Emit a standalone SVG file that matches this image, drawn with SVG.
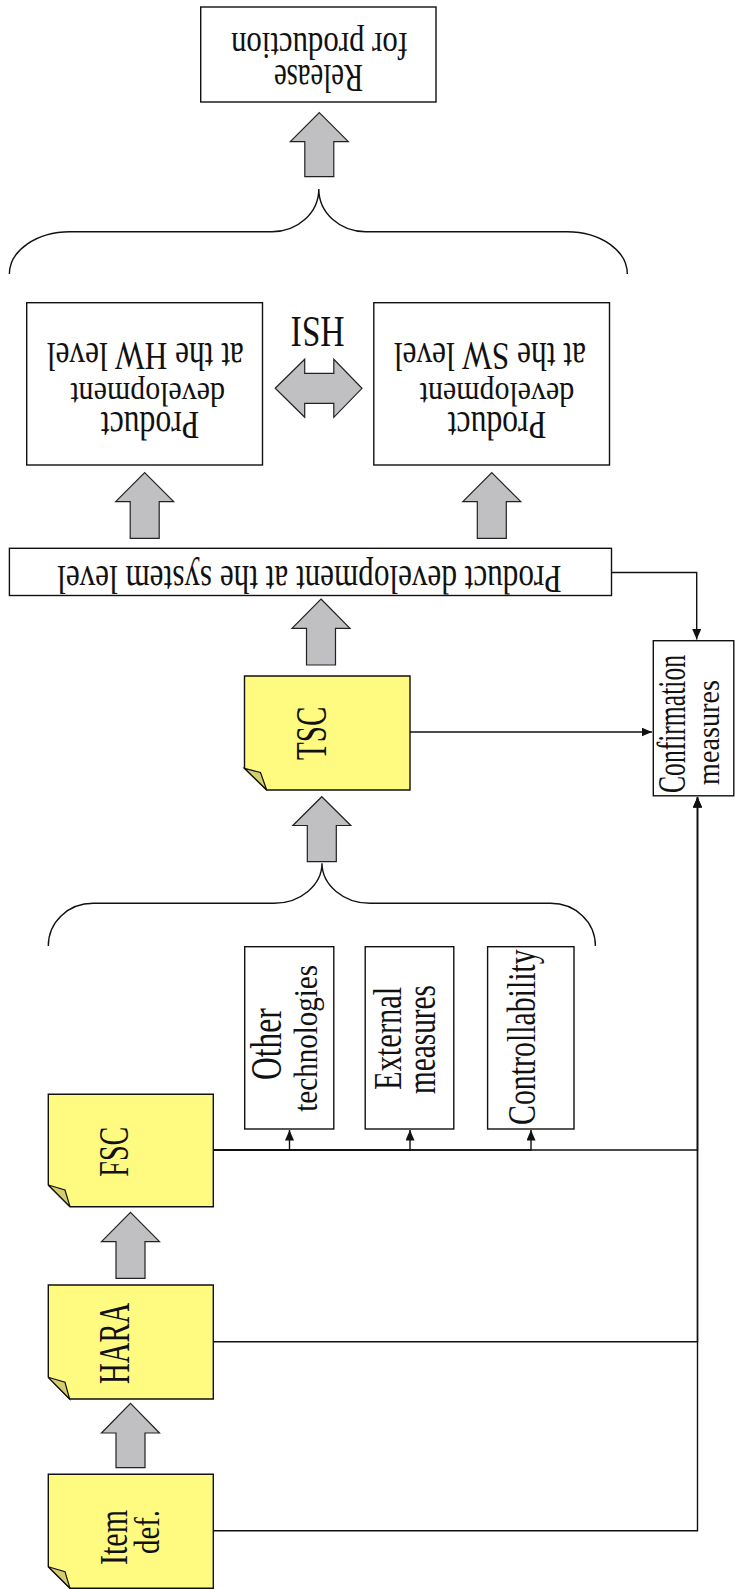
<svg xmlns="http://www.w3.org/2000/svg" width="735" height="1590" viewBox="0 0 735 1590">
<defs>
<style>
.box{fill:#fff;stroke:#111;stroke-width:1.4}
.note{fill:#fffb80;stroke:#111;stroke-width:1.4;stroke-linejoin:miter}
.fold{fill:#d4cd70;stroke:#111;stroke-width:1.2;stroke-linejoin:miter}
.blk{fill:#c0c0c2;stroke:#222;stroke-width:1.2;stroke-linejoin:miter}
.brace{fill:none;stroke:#111;stroke-width:1.4}
.con{fill:none;stroke:#111;stroke-width:1.4}
.t{font-family:"Liberation Serif","DejaVu Serif",serif;fill:#111}
</style>
<marker id="ah" markerUnits="userSpaceOnUse" markerWidth="11" markerHeight="9" refX="10.5" refY="4.5" orient="auto">
<path d="M0,0 L10.5,4.5 L0,9 z" fill="#111"/>
</marker>
</defs>
<rect width="735" height="1590" fill="#fff"/>

<g id="connectors">
<path class="con" d="M611.5,572.5 H696.7 V639.5" marker-end="url(#ah)"/>
<path class="con" d="M410,732 H652" marker-end="url(#ah)"/>
<path class="con" d="M213.3,1530.7 H697.5 V797" marker-end="url(#ah)"/>
<path class="con" d="M213.3,1341.7 H697.5 V797" marker-end="url(#ah)"/>
<path class="con" d="M213.3,1150 H697.5 V797" marker-end="url(#ah)"/>
<path class="con" d="M213.3,1150 H289.5 V1130" marker-end="url(#ah)"/>
<path class="con" d="M213.3,1150 H410 V1130" marker-end="url(#ah)"/>
<path class="con" d="M213.3,1150 H531 V1130" marker-end="url(#ah)"/>
<path id="brace-top" class="brace" d="M9.4,274 C9.4,250.6 36.5,231.7 70,231.7 L272,231.7 C297.8,231.7 318.8,212.8 318.8,189 C318.8,212.8 339.8,231.7 365.6,231.7 L567,231.7 C600.5,231.7 627.3,250.6 627.3,274"/>
<path id="brace-mid" class="brace" d="M48.3,946 C48.3,922 68,903.3 93.3,903.3 L274,903.3 C300.4,903.3 322,885 322,863.3 C322,885 343.6,903.3 370,903.3 L550.4,903.3 C575.7,903.3 595.4,922 595.4,946"/>
<polygon id="arr-release" class="blk" points="319.3,112.7 348.3,141.7 333.8,141.7 333.8,176.7 304.8,176.7 304.8,141.7 290.3,141.7"/>
<polygon id="arr-hw" class="blk" points="144.7,472.7 173.7,501.7 159.2,501.7 159.2,538.3 130.2,538.3 130.2,501.7 115.7,501.7"/>
<polygon id="arr-sw" class="blk" points="491.8,472.7 520.8,501.7 506.3,501.7 506.3,538.3 477.3,538.3 477.3,501.7 462.8,501.7"/>
<polygon id="arr-sys" class="blk" points="321,599 350,628.3 335.5,628.3 335.5,665 306.5,665 306.5,628.3 292,628.3"/>
<polygon id="arr-tsc" class="blk" points="321.8,796.7 350.8,825.5 336.3,825.5 336.3,861.7 307.3,861.7 307.3,825.5 292.8,825.5"/>
<polygon id="arr-fsc" class="blk" points="130.5,1212.3 159.5,1241.7 145,1241.7 145,1278.3 116,1278.3 116,1241.7 101.5,1241.7"/>
<polygon id="arr-hara" class="blk" points="130.5,1403.3 159.5,1433 145,1433 145,1467.7 116,1467.7 116,1433 101.5,1433"/>
<polygon id="arr-ish" class="blk" points="275.2,388.3 304.7,359.3 304.7,373.3 333.8,373.3 333.8,359.3 362,388.3 333.8,417.3 333.8,403.3 304.7,403.3 304.7,417.3"/>
</g>

<g id="release">
<rect class="box" x="200.7" y="7" width="235.3" height="95"/>
<text class="t" font-size="40" transform="translate(363,65) rotate(180)" textLength="89" lengthAdjust="spacingAndGlyphs">Release</text>
<text class="t" font-size="37" transform="translate(408,33) rotate(180)" textLength="177" lengthAdjust="spacingAndGlyphs">for production</text>
</g>

<g id="hw">
<rect class="box" x="26.7" y="302.7" width="235.8" height="162.3"/>
<text class="t" font-size="40" transform="translate(243.8,343.3) rotate(180)" textLength="197" lengthAdjust="spacingAndGlyphs">at the HW level</text>
<text class="t" font-size="34" transform="translate(225,382.5) rotate(180)" textLength="154.7" lengthAdjust="spacingAndGlyphs">development</text>
<text class="t" font-size="39" transform="translate(199.3,411.7) rotate(180)" textLength="98.5" lengthAdjust="spacingAndGlyphs">Product</text>
</g>

<g id="sw">
<rect class="box" x="373.8" y="302.7" width="235.7" height="162.3"/>
<text class="t" font-size="40" transform="translate(586,343.3) rotate(180)" textLength="192.2" lengthAdjust="spacingAndGlyphs">at the SW level</text>
<text class="t" font-size="34" transform="translate(574.3,382.5) rotate(180)" textLength="154.7" lengthAdjust="spacingAndGlyphs">development</text>
<text class="t" font-size="39" transform="translate(546.2,411.7) rotate(180)" textLength="98.5" lengthAdjust="spacingAndGlyphs">Product</text>
</g>

<g id="hsi">
<text class="t" font-size="45" transform="translate(344.6,316.7) rotate(180)" textLength="54" lengthAdjust="spacingAndGlyphs">HSI</text>
</g>

<g id="system">
<rect class="box" x="9.4" y="548.3" width="602.1" height="47.2"/>
<text class="t" font-size="40" transform="translate(561.6,565.5) rotate(180)" textLength="504.4" lengthAdjust="spacingAndGlyphs">Product development at the system level</text>
</g>

<g id="confirmation">
<rect class="box" x="653.3" y="640.7" width="80.5" height="155.1"/>
<text class="t" font-size="39" transform="translate(685,793) rotate(-90)" textLength="138" lengthAdjust="spacingAndGlyphs">Confirmation</text>
<text class="t" font-size="31" transform="translate(719.3,785) rotate(-90)" textLength="105" lengthAdjust="spacingAndGlyphs">measures</text>
</g>

<g id="tsc">
<polygon class="note" points="244.5,676 410,676 410,790 266.7,790 244.5,768.3"/>
<polygon class="fold" points="244.5,768.3 260.5,772.5 266.7,790"/>
<text class="t" font-size="44" transform="translate(325.7,760) rotate(-90)" textLength="53.3" lengthAdjust="spacingAndGlyphs">TSC</text>
</g>

<g id="other">
<rect class="box" x="244.7" y="946.7" width="89.1" height="182.3"/>
<text class="t" font-size="44" transform="translate(281.3,1080) rotate(-90)" textLength="71.7" lengthAdjust="spacingAndGlyphs">Other</text>
<text class="t" font-size="33" transform="translate(316.5,1111.7) rotate(-90)" textLength="146.7" lengthAdjust="spacingAndGlyphs">technologies</text>
</g>

<g id="external">
<rect class="box" x="365.2" y="946.7" width="88.6" height="182.3"/>
<text class="t" font-size="41" transform="translate(400.8,1090) rotate(-90)" textLength="103.3" lengthAdjust="spacingAndGlyphs">External</text>
<text class="t" font-size="39" transform="translate(435,1094) rotate(-90)" textLength="109" lengthAdjust="spacingAndGlyphs">measures</text>
</g>

<g id="controllability">
<rect class="box" x="487.6" y="946.7" width="86.4" height="182.3"/>
<text class="t" font-size="39" transform="translate(535.3,1125) rotate(-90)" textLength="175.7" lengthAdjust="spacingAndGlyphs">Controllability</text>
</g>

<g id="fsc">
<polygon class="note" points="48.3,1094.3 213.3,1094.3 213.3,1206.7 70,1206.7 48.3,1185"/>
<polygon class="fold" points="48.3,1185 65,1190 70,1206.7"/>
<text class="t" font-size="43" transform="translate(128.3,1176.7) rotate(-90)" textLength="50" lengthAdjust="spacingAndGlyphs">FSC</text>
</g>

<g id="hara">
<polygon class="note" points="48.3,1285 213.3,1285 213.3,1399 69.6,1399 48.3,1377.3"/>
<polygon class="fold" points="48.3,1377.3 65,1382.3 69.6,1399"/>
<text class="t" font-size="44" transform="translate(128.9,1384) rotate(-90)" textLength="81.3" lengthAdjust="spacingAndGlyphs">HARA</text>
</g>

<g id="itemdef">
<polygon class="note" points="48.3,1474.3 213.3,1474.3 213.3,1588.3 70,1588.3 48.3,1566.7"/>
<polygon class="fold" points="48.3,1566.7 65,1571.7 70,1588.3"/>
<text class="t" font-size="41" transform="translate(127.3,1565) rotate(-90)" textLength="55" lengthAdjust="spacingAndGlyphs">Item</text>
<text class="t" font-size="36" transform="translate(159.3,1554) rotate(-90)" textLength="44" lengthAdjust="spacingAndGlyphs">def.</text>
</g>
</svg>
